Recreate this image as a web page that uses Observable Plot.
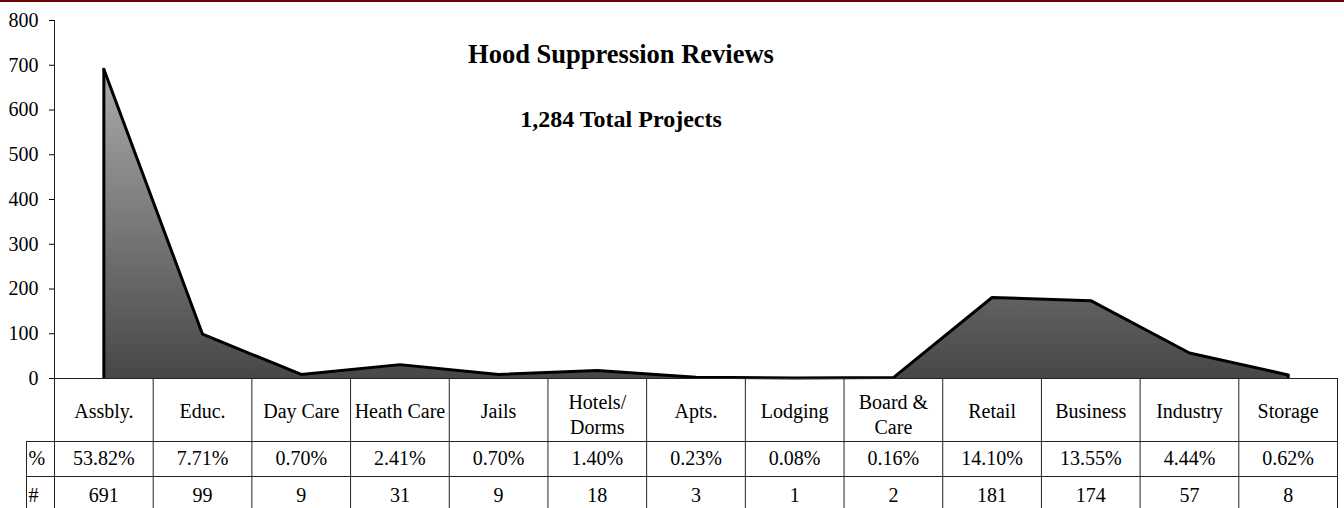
<!DOCTYPE html>
<html>
<head>
<meta charset="utf-8">
<script src="https://cdn.jsdelivr.net/npm/d3@7"></script>
<script src="https://cdn.jsdelivr.net/npm/@observablehq/plot@0.6"></script>
<style>
html, body { margin: 0; padding: 0; background: #fff; }
#wrap { position: relative; width: 1344px; height: 508px; overflow: hidden; }
#topline { position: absolute; left: 0; top: 0; width: 1344px; height: 2px; background: #6e0000; z-index: 2; }
#wrap svg { display: block; }
</style>
</head>
<body>
<div id="wrap"><div id="topline"></div></div>
<script>
// ---- data ----
const categories = ["Assbly.", "Educ.", "Day Care", "Heath Care", "Jails", "Hotels/\nDorms", "Apts.", "Lodging", "Board &\nCare", "Retail", "Business", "Industry", "Storage"];
const counts = [691, 99, 9, 31, 9, 18, 3, 1, 2, 181, 174, 57, 8];
const percents = ["53.82%", "7.71%", "0.70%", "2.41%", "0.70%", "1.40%", "0.23%", "0.08%", "0.16%", "14.10%", "13.55%", "4.44%", "0.62%"];
const rowLabels = ["%", "#"];
const yTicks = [0, 100, 200, 300, 400, 500, 600, 700, 800];
const title = "Hood Suppression Reviews";
const subtitle = "1,284 Total Projects";

const rows = categories.map((c, i) => ({category: c, count: counts[i], pct: percents[i]}));
const oneLine = rows.filter(d => !d.category.includes("\n"));
const twoLine = rows.filter(d => d.category.includes("\n"));

// ---- layout ----
const W = 1344, H = 508;
const mL = 54, mR = 7, mT = 20, mB = 130;
const step = (W - mL - mR) / categories.length;
const frameH = H - mT - mB;           // 358
const row1 = 63, row2 = 98;           // table row offsets below the zero line
const font = "'Liberation Serif', 'Times New Roman', serif";
const lineColor = "#222";

const gradient = () => {
  const defs = d3.create("svg:defs");
  const g = defs.append("linearGradient")
    .attr("id", "hoodGrad").attr("x1", 0).attr("y1", 0).attr("x2", 0).attr("y2", 1);
  g.append("stop").attr("offset", "0%").attr("stop-color", "#ababab");
  g.append("stop").attr("offset", "100%").attr("stop-color", "#474747");
  return defs.node();
};

const chart = Plot.plot({
  width: W,
  height: H,
  marginLeft: mL,
  marginRight: mR,
  marginTop: mT,
  marginBottom: mB,
  style: {fontFamily: font, fontSize: "20px", color: "#000", background: "#fff"},
  x: {type: "point", domain: categories, padding: 0.5, round: false, axis: null},
  y: {domain: [0, 800], axis: null},
  marks: [
    gradient,
    Plot.areaY(rows, {x: "category", y: "count", fill: "url(#hoodGrad)"}),
    // left and right outline of the area
    Plot.ruleX(rows.slice(0, 1), {x: "category", y1: 0, y2: "count", stroke: "#000", strokeWidth: 3}),
    Plot.ruleX(rows.slice(-1), {x: "category", y1: 0, y2: "count", stroke: "#000", strokeWidth: 3}),
    Plot.lineY(rows, {x: "category", y: "count", stroke: "#000", strokeWidth: 3, strokeLinejoin: "miter"}),
    // y axis
    Plot.axisY({ticks: yTicks, tickSize: 5, tickPadding: 11, fontSize: 20, label: null, tickFormat: d => String(d)}),
    // axis line continuing down as the table's left border
    Plot.ruleX(rows.slice(0, 1), {x: "category", dx: -step / 2, insetBottom: -mB, stroke: lineColor}),
    // column borders of the table
    Plot.ruleX(rows, {x: "category", dx: step / 2, insetTop: frameH, insetBottom: -mB, stroke: lineColor}),
    // left border of the row-label column
    Plot.ruleX(rows.slice(0, 1), {x: "category", dx: -step / 2 - 28, insetTop: frameH + row1, insetBottom: -mB, stroke: lineColor}),
    // horizontal table lines
    Plot.ruleY([0], {stroke: lineColor}),
    Plot.ruleY([0], {dy: row1, insetLeft: -28, stroke: lineColor}),
    Plot.ruleY([0], {dy: row2, insetLeft: -28, stroke: lineColor}),
    // table text
    Plot.text(oneLine, {x: "category", text: "category", frameAnchor: "bottom", dy: 39, fontSize: 20, fill: "#000"}),
    Plot.text(twoLine, {x: "category", text: "category", frameAnchor: "bottom", lineAnchor: "top", dy: 12.5, fontSize: 20, lineHeight: 1.25, fill: "#000"}),
    Plot.text(rows, {x: "category", text: "pct", frameAnchor: "bottom", dy: 86.6, fontSize: 20, fill: "#000"}),
    Plot.text(rows, {x: "category", text: d => String(d.count), frameAnchor: "bottom", dy: 123, fontSize: 20, fill: "#000"}),
    Plot.text(rowLabels.slice(0, 1), {text: d => d, frameAnchor: "bottom-left", dx: -26, dy: 86.6, textAnchor: "start", fontSize: 20, fill: "#000"}),
    Plot.text(rowLabels.slice(1), {text: d => d, frameAnchor: "bottom-left", dx: -26, dy: 123, textAnchor: "start", fontSize: 20, fill: "#000"}),
    // titles
    Plot.text([title], {text: d => d, frameAnchor: "top", dx: -75, dy: 23.2, fontSize: 26.5, fontWeight: "bold", fill: "#000"}),
    Plot.text([subtitle], {text: d => d, frameAnchor: "top", dx: -75, dy: 89, fontSize: 24, fontWeight: "bold", fill: "#000"})
  ]
});

document.getElementById("wrap").appendChild(chart);
</script>
</body>
</html>
